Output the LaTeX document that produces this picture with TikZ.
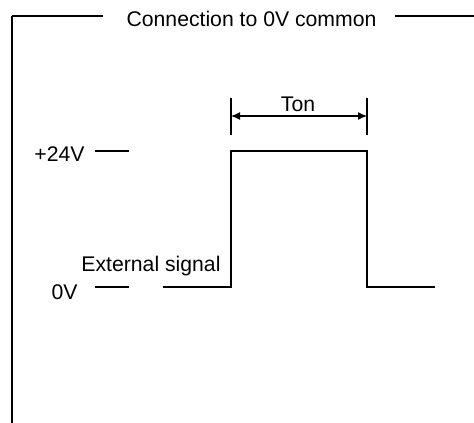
\documentclass[tikz,border=0pt]{standalone}
\usepackage{fontspec}
\setmainfont{Liberation Sans}
\usetikzlibrary{arrows.meta}
\begin{document}
\begin{tikzpicture}[x=1pt,y=-1pt,
  lbl/.style={inner sep=0pt,font=\fontsize{21.2}{25}\selectfont},
  wire/.style={line width=1.4pt},
  thin/.style={line width=1.2pt}]
\useasboundingbox (0,0) rectangle (474,423);
% frame
\coordinate (tl) at (11.8,16);
\coordinate (bl) at (11.8,423);
\coordinate (tlend) at (103,16);
\coordinate (trstart) at (395,16);
\coordinate (tr) at (474,16);
\node[lbl] (title) at (251.5,19) {Connection to 0V common};
\draw[line width=1.4pt] (tlend) -- (tl);
\draw[line width=2.4pt] (tl) -- (bl);
\draw[line width=1.4pt] (trstart) -- (tr);
% levels
\node[lbl] (hi) at (59.5,154) {+24V};
\node[lbl] (lo) at (64.5,292) {0V};
\node[lbl] (ext) at (151,266) {External signal};
\coordinate (hia) at (95,151); \coordinate (hib) at (129,151);
\coordinate (loa) at (95,287); \coordinate (lob) at (129,287);
\draw[thin] (hia) -- (hib);
\draw[thin] (loa) -- (lob);
% pulse
\coordinate (p0) at (163,287);
\coordinate (p1) at (231,287);
\coordinate (p2) at (231,151);
\coordinate (p3) at (367,151);
\coordinate (p4) at (367,287);
\coordinate (p5) at (435,287);
\draw[wire,line join=miter] (p0) -- (p1) -- (p2) -- (p3) -- (p4) -- (p5);
% Ton
\coordinate (ta) at (231,98); \coordinate (tb) at (231,135);
\coordinate (tc) at (367,98); \coordinate (td) at (367,135);
\draw[thin] (ta) -- (tb);
\draw[thin] (tc) -- (td);
\coordinate (aa) at (231,116); \coordinate (ab) at (367,116);
\draw[thin,{Latex[length=9pt,width=8pt]}-{Latex[length=9pt,width=8pt]}] (aa) -- (ab);
\node[lbl] (ton) at (298,104) {Ton};
\end{tikzpicture}
\end{document}
